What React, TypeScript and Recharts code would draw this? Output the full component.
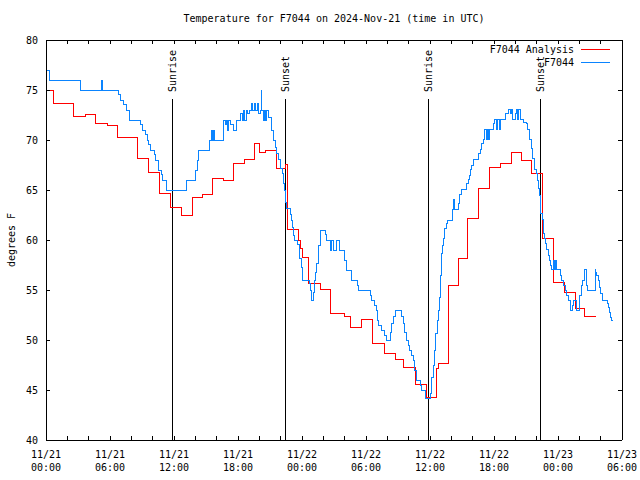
import { LineChart, Line, XAxis, YAxis, ReferenceLine } from "recharts";

const FONT = "'DejaVu Sans Mono', 'Liberation Mono', monospace";
const RED = "#ff0000";
const BLUE = "#0a84ff";

// [hours since 11/21 00:00 UTC, degrees F] — value holds until next point
const analysis: [number, number][] = [
  [0, 75.0], [0.69, 73.7], [2.56, 72.4], [3.69, 72.6], [4.62, 71.7], [5.75, 71.5],
  [6.69, 70.3], [8.56, 68.2], [9.63, 66.8], [10.6, 64.7], [11.69, 63.3], [12.72, 62.5],
  [13.72, 64.3], [14.69, 64.6], [15.6, 66.2], [16.62, 66.0], [17.62, 67.7], [18.65, 68.1],
  [19.59, 69.7], [20.06, 68.8], [20.62, 69.0], [21.62, 67.2], [22.47, 67.6], [22.66, 61.1],
  [23.66, 60.0], [23.85, 59.2], [24.03, 58.3], [24.63, 55.7], [25.69, 55.1], [26.66, 52.7],
  [28.03, 52.4], [28.5, 51.3], [29.6, 52.1], [30.6, 49.7], [31.69, 48.7], [32.72, 48.1],
  [33.56, 47.3], [34.6, 45.6], [35.63, 44.3], [36.63, 47.2], [36.8, 47.7], [37.72, 55.5],
  [38.66, 58.2], [39.5, 62.2], [40.56, 65.2], [41.56, 67.3], [42.6, 67.7], [43.63, 68.8],
  [44.56, 68.0], [45.5, 66.7], [46.55, 60.2], [47.58, 55.8], [48.6, 54.8], [49.6, 53.2],
  [50.53, 52.4], [51.57, 52.4],
];

const observed: [number, number][] = [
  [0, 77.0], [0.31, 76.0], [3.25, 75.0], [5.16, 76.0], [5.25, 75.0], [6.8, 74.6],
  [7.0, 74.0], [7.25, 73.6], [7.5, 73.0], [7.8, 72.0], [8.9, 71.6], [9.06, 71.0],
  [9.3, 70.6], [9.5, 70.0], [9.6, 69.6], [9.75, 69.0], [10.2, 68.6], [10.3, 68.0],
  [10.5, 67.6], [10.56, 67.0], [10.87, 66.6], [10.94, 66.0], [11.25, 65.6], [11.3, 65.0],
  [13.13, 66.0], [13.97, 67.0], [14.19, 68.0], [14.28, 69.0], [15.37, 70.0], [15.56, 71.0],
  [15.62, 70.0], [15.69, 71.0], [15.75, 70.0], [16.6, 71.0], [16.66, 72.0], [16.8, 71.6],
  [16.9, 72.0], [17.05, 71.0], [17.12, 72.0], [17.3, 71.6], [17.56, 71.0], [17.87, 72.0],
  [18.19, 72.7], [18.4, 72.0], [18.5, 73.0], [18.65, 72.0], [18.75, 73.0], [18.9, 72.7],
  [19.05, 73.0], [19.28, 73.7], [19.4, 73.0], [19.5, 73.7], [19.65, 73.0], [19.8, 73.7],
  [19.95, 72.7], [20.1, 73.0], [20.16, 75.0], [20.22, 73.0], [20.35, 72.0], [20.5, 73.0],
  [20.6, 72.0], [20.7, 73.0], [20.85, 72.3], [21.16, 71.0], [21.3, 70.0], [21.47, 69.3],
  [21.63, 68.7], [21.78, 68.1], [21.94, 67.7], [22.03, 67.2], [22.19, 66.7], [22.31, 65.7],
  [22.4, 65.0], [22.47, 63.8], [22.56, 63.2], [22.94, 62.6], [23.03, 62.0], [23.13, 61.3],
  [23.19, 60.5], [23.28, 60.0], [23.59, 59.6], [23.72, 59.0], [23.81, 58.2], [23.91, 57.3],
  [24.03, 56.0], [24.69, 55.7], [24.81, 55.0], [24.88, 54.0], [25.06, 54.8], [25.16, 56.0],
  [25.28, 56.8], [25.38, 57.7], [25.5, 58.5], [25.59, 59.5], [25.69, 60.2], [25.78, 61.0],
  [26.19, 60.6], [26.25, 60.0], [26.63, 59.0], [26.81, 60.0], [26.94, 59.0], [27.25, 60.0],
  [27.47, 59.0], [27.94, 58.5], [28.03, 58.0], [28.13, 57.0], [28.63, 56.0], [29.19, 55.5],
  [29.28, 55.0], [30.38, 54.5], [30.53, 54.0], [30.75, 53.5], [30.94, 53.0], [31.06, 52.0],
  [31.16, 51.5], [31.47, 51.0], [31.78, 50.5], [31.94, 50.0], [32.25, 50.8], [32.4, 51.7],
  [32.56, 52.4], [32.72, 53.0], [33.34, 52.4], [33.5, 51.7], [33.65, 50.8], [33.81, 50.0],
  [33.97, 49.5], [34.12, 49.0], [34.28, 48.5], [34.44, 48.0], [34.59, 47.0], [34.75, 46.0],
  [35.12, 45.5], [35.22, 45.0], [35.62, 44.2], [36.0, 44.7], [36.15, 46.3], [36.31, 47.5],
  [36.4, 49.0], [36.56, 50.7], [36.69, 52.0], [36.78, 53.0], [36.87, 54.3], [36.94, 55.5],
  [37.0, 56.5], [37.09, 58.7], [37.17, 59.5], [37.25, 60.2], [37.33, 60.7], [37.4, 61.2],
  [37.5, 61.7], [37.62, 62.0], [38.09, 63.1], [38.19, 64.1], [38.34, 63.1], [38.65, 63.7],
  [38.75, 64.1], [38.81, 64.6], [38.97, 65.1], [39.44, 65.7], [39.59, 66.1], [39.69, 66.5],
  [39.81, 67.1], [39.9, 67.5], [40.06, 68.1], [40.53, 68.7], [40.69, 69.1], [40.84, 69.7],
  [41.0, 70.1], [41.09, 70.7], [41.15, 71.1], [41.31, 70.1], [41.4, 71.1], [41.5, 70.1],
  [41.62, 71.1], [41.94, 71.7], [42.09, 72.1], [42.25, 71.1], [42.35, 72.1], [42.5, 71.1],
  [42.6, 72.1], [43.12, 72.7], [43.34, 73.1], [43.5, 72.7], [43.6, 73.1], [43.7, 72.1],
  [43.97, 72.7], [44.12, 73.1], [44.2, 72.1], [44.3, 73.1], [44.44, 72.1], [44.75, 71.8],
  [45.0, 71.7], [45.15, 71.1], [45.31, 70.1], [45.47, 69.2], [45.62, 68.2], [45.75, 67.7],
  [45.84, 67.1], [45.94, 66.7], [46.06, 66.0], [46.15, 65.2], [46.25, 64.5], [46.38, 62.7],
  [46.5, 62.1], [46.63, 60.7], [46.72, 60.2], [46.81, 59.7], [46.94, 59.1], [47.1, 58.5],
  [47.19, 58.0], [47.31, 57.5], [47.41, 57.1], [47.56, 58.0], [47.65, 57.1], [47.72, 58.0],
  [47.88, 57.1], [48.25, 56.5], [48.34, 56.0], [48.5, 55.5], [48.66, 55.0], [48.81, 54.5],
  [48.97, 54.0], [49.13, 53.0], [49.34, 53.5], [49.44, 54.0], [49.69, 53.5], [49.75, 53.0],
  [50.0, 53.5], [50.06, 54.5], [50.22, 55.5], [50.31, 56.0], [50.44, 57.1], [50.69, 55.5],
  [50.75, 55.0], [51.47, 57.1], [51.56, 56.8], [51.63, 56.5], [51.78, 56.0], [51.88, 55.3],
  [52.0, 54.7], [52.13, 54.0], [52.63, 53.7], [52.72, 53.3], [52.81, 52.8], [52.94, 52.3],
  [53.03, 52.0], [53.13, 52.0],
];

const sunEvents = [
  { hour: 11.84, name: "Sunrise" },
  { hour: 22.47, name: "Sunset" },
  { hour: 35.86, name: "Sunrise" },
  { hour: 46.36, name: "Sunset" },
];
const SUN_LINE_TOP = 74.1;

const xTicks = [0, 2, 4, 6, 8, 10, 12, 14, 16, 18, 20, 22, 24, 26, 28, 30, 32, 34, 36, 38, 40, 42, 44, 46, 48, 50, 52, 54];
const xLabels: Record<number, [string, string]> = {
  0: ["11/21", "00:00"],
  6: ["11/21", "06:00"],
  12: ["11/21", "12:00"],
  18: ["11/21", "18:00"],
  24: ["11/22", "00:00"],
  30: ["11/22", "06:00"],
  36: ["11/22", "12:00"],
  42: ["11/22", "18:00"],
  48: ["11/23", "00:00"],
  54: ["11/23", "06:00"],
};
const yTicks = [40, 45, 50, 55, 60, 65, 70, 75, 80];

const analysisData = analysis.map(([t, temp]) => ({ t, temp }));
const observedData = observed.map(([t, temp]) => ({ t, temp }));

const TICK = 4;

function BottomTick({ x, y, payload }: any) {
  const lab = xLabels[payload.value];
  return (
    <g>
      <line className="crisp" x1={x} x2={x} y1={y} y2={y - TICK} stroke="#000" />
      {lab && (
        <text x={x} y={y + 18} textAnchor="middle" fontSize={10} fontFamily={FONT} fill="#000">
          <tspan x={x}>{lab[0]}</tspan>
          <tspan x={x} dy={13}>{lab[1]}</tspan>
        </text>
      )}
    </g>
  );
}

function TopTick({ x, y }: any) {
  return <line className="crisp" x1={x} x2={x} y1={y} y2={y + TICK} stroke="#000" />;
}

function LeftTick({ x, y, payload }: any) {
  return (
    <g>
      <line className="crisp" x1={x} x2={x + TICK} y1={y} y2={y} stroke="#000" />
      <text x={x - 8} y={y + 4} textAnchor="end" fontSize={10} fontFamily={FONT} fill="#000">
        {payload.value}
      </text>
    </g>
  );
}

function RightTick({ x, y }: any) {
  return <line className="crisp" x1={x} x2={x - TICK} y1={y} y2={y} stroke="#000" />;
}

function SunLabel({ viewBox, text }: any) {
  const { x, y } = viewBox;
  return (
    <text
      transform={`translate(${x + 3.5},${y - 7}) rotate(-90)`}
      textAnchor="start"
      fontSize={10}
      fontFamily={FONT}
      fill="#000"
    >
      {text}
    </text>
  );
}

export default function App() {
  return (
    <div style={{ position: "absolute", left: 0, top: 0, width: 640, height: 480, background: "#fff", fontFamily: FONT, fontSize: 10 }}>
      <style>{`.recharts-curve, .recharts-reference-line-line, .recharts-cartesian-axis-line, .crisp { shape-rendering: crispEdges; }`}</style>
      <div style={{ position: "absolute", left: 0, width: 668, top: 13, textAlign: "center", lineHeight: "12px" }}>
        Temperature for F7044 on 2024-Nov-21 (time in UTC)
      </div>
      <div
        style={{
          position: "absolute",
          left: 12,
          top: 240,
          transform: "translate(-50%, -50%) rotate(-90deg)",
          whiteSpace: "nowrap",
          lineHeight: "12px",
        }}
      >
        degrees F
      </div>
      <LineChart width={640} height={480} margin={{ top: 0, right: 0, bottom: 0, left: 0 }}>
        <XAxis
          xAxisId="b"
          type="number"
          dataKey="t"
          domain={[0, 54]}
          ticks={xTicks}
          interval={0}
          height={40}
          tickSize={0}
          tickMargin={0}
          tickLine={false}
          axisLine={{ stroke: "#000" }}
          tick={(p: any) => <BottomTick {...p} />}
          allowDataOverflow
        />
        <XAxis
          xAxisId="t"
          orientation="top"
          type="number"
          dataKey="t"
          domain={[0, 54]}
          ticks={xTicks}
          interval={0}
          height={40}
          tickSize={0}
          tickMargin={0}
          tickLine={false}
          axisLine={{ stroke: "#000" }}
          tick={(p: any) => <TopTick {...p} />}
          allowDataOverflow
        />
        <YAxis
          yAxisId="l"
          type="number"
          domain={[40, 80]}
          ticks={yTicks}
          interval={0}
          width={46}
          tickSize={0}
          tickMargin={0}
          tickLine={false}
          axisLine={{ stroke: "#000" }}
          tick={(p: any) => <LeftTick {...p} />}
          allowDataOverflow
        />
        <YAxis
          yAxisId="r"
          orientation="right"
          type="number"
          domain={[40, 80]}
          ticks={yTicks}
          interval={0}
          width={18}
          tickSize={0}
          tickMargin={0}
          tickLine={false}
          axisLine={{ stroke: "#000" }}
          tick={(p: any) => <RightTick {...p} />}
          allowDataOverflow
        />
        {sunEvents.map((e, i) => (
          <ReferenceLine
            key={i}
            xAxisId="b"
            yAxisId="l"
            segment={[
              { x: e.hour, y: 40 },
              { x: e.hour, y: SUN_LINE_TOP },
            ]}
            stroke="#000"
            strokeWidth={1}
            label={<SunLabel text={e.name} />}
          />
        ))}
        <Line
          xAxisId="b"
          yAxisId="l"
          data={analysisData}
          dataKey="temp"
          name="F7044 Analysis"
          type="stepAfter"
          stroke={RED}
          strokeWidth={1}
          dot={false}
          activeDot={false}
          isAnimationActive={false}
        />
        <Line
          xAxisId="b"
          yAxisId="l"
          data={observedData}
          dataKey="temp"
          name="F7044"
          type="stepAfter"
          stroke={BLUE}
          strokeWidth={1}
          dot={false}
          activeDot={false}
          isAnimationActive={false}
        />
      </LineChart>
      <div style={{ position: "absolute", right: 66, top: 44, lineHeight: "12px", textAlign: "right" }}>
        F7044 Analysis
      </div>
      <div style={{ position: "absolute", left: 581, top: 49, width: 29, height: 1, background: RED }} />
      <div style={{ position: "absolute", right: 66, top: 57, lineHeight: "12px", textAlign: "right" }}>
        F7044
      </div>
      <div style={{ position: "absolute", left: 581, top: 62, width: 29, height: 1, background: BLUE }} />
    </div>
  );
}
